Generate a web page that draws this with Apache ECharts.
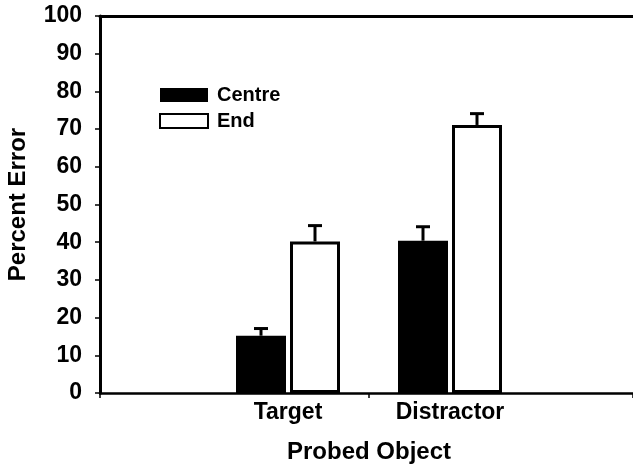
<!DOCTYPE html>
<html><head><meta charset="utf-8">
<script src="https://cdn.jsdelivr.net/npm/echarts@6/dist/echarts.min.js"></script>
<style>html,body{margin:0;padding:0;background:#fff}#c{width:633px;height:469px}</style>
</head><body><div id="c"></div>
<script>
var categories = ['Target', 'Distractor'];
var centreValues = [15.2, 40.4];
var centreErr = [1.9, 3.7];
var endValues = [40.2, 71.1];
var endErr = [4.2, 3.0];
var yTicks = {min: 0, max: 100, interval: 10};

var FONT = '"Liberation Sans", Arial, sans-serif';
var BAR_W = 50, BAR_GAP_PX = 4;

function errSeries(name, vals, errs, side) {
  return {
    type: 'custom', name: name + ' err', xAxisIndex: 1, yAxisIndex: 1, z: 1,
    silent: true,
    data: vals.map(function (v, i) { return [i, v, v + errs[i]]; }),
    renderItem: function (params, api) {
      var off = side * (BAR_W + BAR_GAP_PX) / 2;
      var base = api.coord([api.value(0), api.value(1)]);
      var top = api.coord([api.value(0), api.value(2)]);
      var x = base[0] + off;
      return {
        type: 'group',
        children: [
          {type: 'line', shape: {x1: x, y1: base[1], x2: x, y2: top[1]}, style: {stroke: '#000', lineWidth: 3}},
          {type: 'line', shape: {x1: x - 7, y1: top[1], x2: x + 7, y2: top[1]}, style: {stroke: '#000', lineWidth: 3}}
        ]
      };
    }
  };
}

var chart = echarts.init(document.getElementById('c'), null, {renderer: 'canvas'});
chart.setOption({
  animation: false,
  textStyle: {fontFamily: FONT},
  grid: [
    {left: 100, right: 0, top: 16, bottom: 76, containLabel: false, outerBoundsMode: 'none'},
    {left: 207, right: 102, top: 16, bottom: 76, containLabel: false, outerBoundsMode: 'none'}
  ],
  legend: {
    orient: 'vertical', left: 154, top: 80, itemWidth: 48, itemHeight: 14, itemGap: 6,
    icon: 'rect',
    data: ['Centre', 'End'],
    textStyle: {fontFamily: FONT, fontWeight: 'bold', fontSize: 20, color: '#000', padding: [0, 0, 0, 4]}
  },
  xAxis: [
    {gridIndex: 0, type: 'value', min: 0, max: 533, interval: 269,
     axisLine: {lineStyle: {color: '#000', width: 2.5}},
     axisTick: {show: true, inside: false, length: 5, lineStyle: {color: '#000', width: 1.5}},
     axisLabel: {show: false}, splitLine: {show: false}},
    {gridIndex: 1, type: 'category', data: categories,
     axisLine: {show: false}, axisTick: {show: false},
     axisLabel: {fontFamily: FONT, fontWeight: 'bold', fontSize: 23, color: '#000', margin: 8},
     name: 'Probed Object', nameLocation: 'middle', nameGap: 47,
     nameTextStyle: {fontFamily: FONT, fontWeight: 'bold', fontSize: 24, color: '#000'}},
    {gridIndex: 0, type: 'value', position: 'top', min: 0, max: 1,
     axisLine: {show: true, lineStyle: {color: '#000', width: 3}},
     axisTick: {show: false}, axisLabel: {show: false}, splitLine: {show: false}}
  ],
  yAxis: [
    {gridIndex: 0, type: 'value', min: yTicks.min, max: yTicks.max, interval: yTicks.interval,
     axisLine: {show: true, lineStyle: {color: '#000', width: 3}},
     axisTick: {show: true, inside: false, length: 5, lineStyle: {color: '#000', width: 1.5}},
     axisLabel: {fontFamily: FONT, fontWeight: 'bold', fontSize: 23, color: '#000', margin: 18},
     splitLine: {show: false},
     name: 'Percent Error', nameLocation: 'middle', nameGap: 70,
     nameTextStyle: {fontFamily: FONT, fontWeight: 'bold', fontSize: 24, color: '#000'}},
    {gridIndex: 1, type: 'value', min: yTicks.min, max: yTicks.max, show: false, splitLine: {show: false}}
  ],
  series: [
    {name: 'Centre', type: 'bar', xAxisIndex: 1, yAxisIndex: 1, data: centreValues,
     barWidth: BAR_W, barGap: (BAR_GAP_PX / BAR_W * 100) + '%', z: 2,
     itemStyle: {color: '#000', borderColor: '#000', borderWidth: 0}},
    {name: 'End', type: 'bar', xAxisIndex: 1, yAxisIndex: 1, data: endValues,
     barWidth: BAR_W, z: 2,
     itemStyle: {color: '#fff', borderColor: '#000', borderWidth: 3}},
    errSeries('Centre', centreValues, centreErr, -1),
    errSeries('End', endValues, endErr, 1)
  ]
});
</script></body></html>
